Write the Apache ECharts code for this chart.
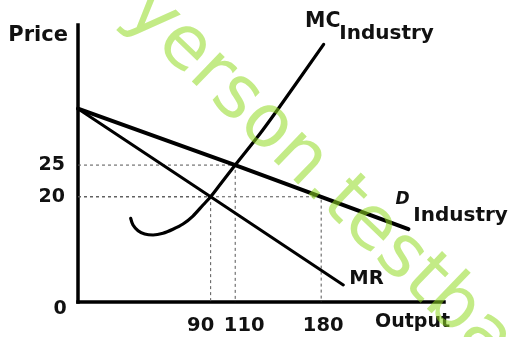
<!DOCTYPE html>
<html>
<head>
<meta charset="utf-8">
<script src="https://cdn.jsdelivr.net/npm/echarts@6/dist/echarts.min.js"></script>
<style>
  html, body { margin: 0; padding: 0; background: #fff; }
  #chart { width: 509px; height: 337px; }
</style>
</head>
<body>
<div id="chart"></div>
<script>
// Tick values shown on each axis
const outputTicks = [90, 110, 180];
const priceTicks = [20, 25];

// Industry demand curve: [output, price]
const demandIndustry = [[-18, 33.9], [110, 25], [180, 20], [251, 14.9]];
// Marginal revenue: [output, price]
const marginalRevenue = [[-18, 33.9], [90, 20], [198, 6.1]];
// Industry marginal cost (U-shaped): [output, price]
const mcIndustry = [
  [24.9, 16.6], [26.8, 15.55], [30.9, 14.65], [36.3, 14.13], [43.1, 13.97],
  [51.2, 14.24], [59.3, 14.87], [67.5, 15.7], [75.6, 16.96], [83.8, 18.7],
  [90, 20], [97.4, 21.85], [110, 25], [130, 29.9], [146.2, 34.2], [182, 44.05]
];
// Equilibrium points that get dashed guides to both axes: [output, price]
const guidePoints = [[110, 25], [180, 20], [90, 20]];

// Visible axis ranges (the diagram's axes are not drawn to scale from zero)
const X_MIN = -18, X_MAX = 280;
const Y_MIN = 3.4, Y_MAX = 47.1;

const FONT = '"DejaVu Sans", sans-serif';
const INK = '#111';

const guideSeries = guidePoints.map(([q, p]) => ({
  type: 'line',
  data: [[X_MIN, p], [q, p], [q, Y_MIN]],
  symbol: 'none',
  silent: true,
  lineStyle: { color: '#555', width: 1, type: [3, 3] },
  z: 1
}));

const curveStyle = (w) => ({ color: '#000', width: w, cap: 'round', join: 'round' });

const chart = echarts.init(document.getElementById('chart'), null, { renderer: 'canvas' });
chart.setOption({
  animation: false,
  backgroundColor: '#fff',
  grid: { left: 78, right: 65, top: 25, bottom: 35 },
  xAxis: {
    type: 'value',
    min: X_MIN,
    max: X_MAX,
    name: 'Output',
    nameLocation: 'end',
    nameGap: 6,
    nameMoveOverlap: false,
    nameTextStyle: {
      color: INK, fontFamily: FONT, fontWeight: 'bold', fontSize: 19,
      align: 'right', verticalAlign: 'top', padding: [11, 0, 0, 0]
    },
    axisLine: { show: true, onZero: false, lineStyle: { color: '#000', width: 3.5, cap: 'square' } },
    axisTick: { show: false },
    splitLine: { show: false },
    axisLabel: {
      customValues: outputTicks,
      margin: 14,
      color: INK,
      formatter: (v) => v === 90 ? '{l|90}' : v === 110 ? '{r|110}' : '{c|' + v + '}',
      rich: {
        l: { fontFamily: FONT, fontWeight: 'bold', fontSize: 19.5, color: INK, padding: [0, 20, 0, 0] },
        r: { fontFamily: FONT, fontWeight: 'bold', fontSize: 19.5, color: INK, padding: [0, 0, 0, 18] },
        c: { fontFamily: FONT, fontWeight: 'bold', fontSize: 19.5, color: INK, padding: [0, 0, 0, 4] }
      }
    }
  },
  yAxis: {
    type: 'value',
    min: Y_MIN,
    max: Y_MAX,
    name: 'Price',
    nameLocation: 'end',
    nameGap: -10.8,
    nameMoveOverlap: false,
    nameTextStyle: {
      color: INK, fontFamily: FONT, fontWeight: 'bold', fontSize: 21,
      align: 'right', verticalAlign: 'middle', padding: [0, 10, 0, 0]
    },
    axisLine: { show: true, onZero: false, lineStyle: { color: '#000', width: 3.5, cap: 'square' } },
    axisTick: { show: false },
    splitLine: { show: false },
    axisLabel: {
      customValues: priceTicks,
      margin: 13,
      color: INK,
      fontFamily: FONT,
      fontWeight: 'bold',
      fontSize: 19
    }
  },
  series: [
    ...guideSeries,
    {
      name: 'D Industry', type: 'line', data: demandIndustry,
      symbol: 'none', lineStyle: curveStyle(4), z: 3
    },
    {
      name: 'MR', type: 'line', data: marginalRevenue,
      symbol: 'none', lineStyle: curveStyle(3), z: 3
    },
    {
      name: 'MC Industry', type: 'line', data: mcIndustry, smooth: 0.3,
      symbol: 'none', lineStyle: curveStyle(3.2), z: 3
    }
  ],
  graphic: [
    // origin label
    { type: 'text', x: 66.7, y: 309, silent: true,
      style: { text: '0', font: 'bold 19px ' + FONT, fill: INK, align: 'right', verticalAlign: 'middle' } },
    // curve labels
    { type: 'text', x: 305, y: 21.3, silent: true,
      style: { text: 'MC', font: 'bold 20.5px ' + FONT, fill: INK, align: 'left', verticalAlign: 'middle' } },
    { type: 'text', x: 339.3, y: 34.2, silent: true,
      style: { text: 'Industry', font: 'bold 20px ' + FONT, fill: INK, align: 'left', verticalAlign: 'middle' } },
    { type: 'text', x: 395.5, y: 199.2, silent: true,
      style: { text: 'D', font: 'italic bold 17px ' + FONT, fill: INK, align: 'left', verticalAlign: 'middle' } },
    { type: 'text', x: 413.3, y: 215.6, silent: true,
      style: { text: 'Industry', font: 'bold 20px ' + FONT, fill: INK, align: 'left', verticalAlign: 'middle' } },
    { type: 'text', x: 349.3, y: 279, silent: true,
      style: { text: 'MR', font: 'bold 19.5px ' + FONT, fill: INK, align: 'left', verticalAlign: 'middle' } },
    // watermark
    { type: 'text', x: 136, y: 1, rotation: -44 * Math.PI / 180, z: 100, silent: true,
      style: { text: 'yerson.testbank', font: '74px ' + FONT, fill: 'rgba(145,218,35,0.55)', align: 'left', verticalAlign: 'middle' } }
  ]
});
</script>
</body>
</html>
